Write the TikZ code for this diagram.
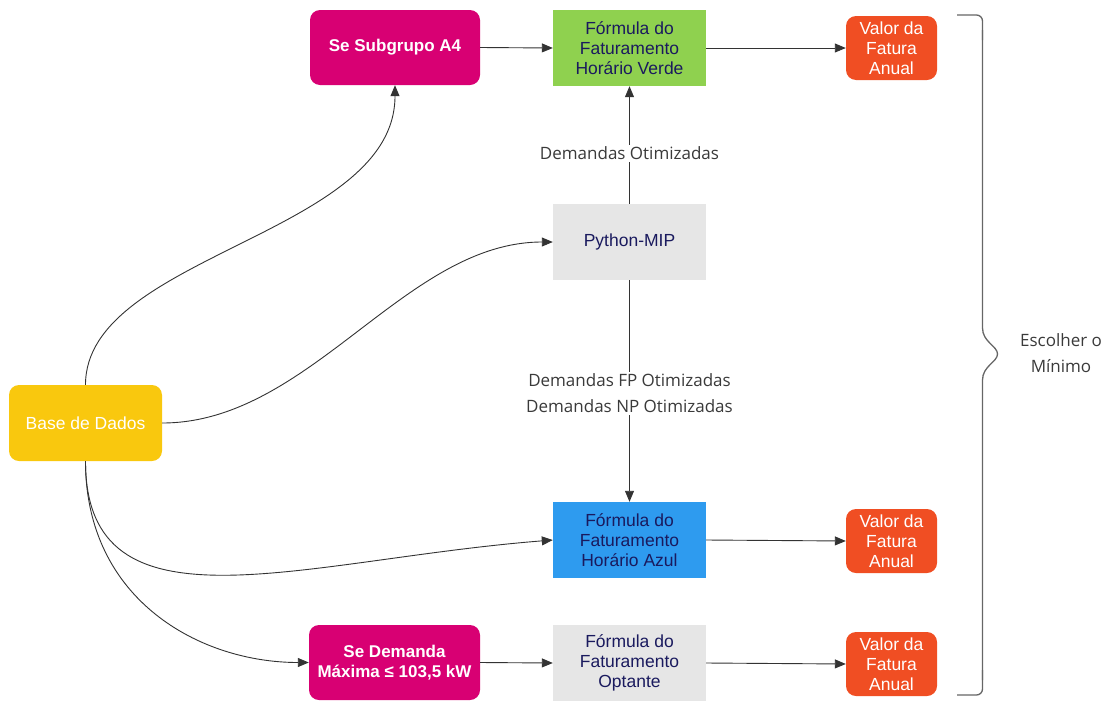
\documentclass[tikz,border=0pt]{standalone}
\usepackage{fontspec}
\setmainfont{Liberation Sans}
\newfontfamily\labelfont{Open Sans}
\usetikzlibrary{arrows.meta}
\definecolor{cMag}{HTML}{D80073}
\definecolor{cGreen}{HTML}{8FD14F}
\definecolor{cOrange}{HTML}{F04E23}
\definecolor{cGray}{HTML}{E6E6E6}
\definecolor{cYellow}{HTML}{F9C80E}
\definecolor{cBlue}{HTML}{2E9BEF}
\definecolor{cNavy}{HTML}{1A1A5E}
\definecolor{cLine}{HTML}{333333}
\definecolor{cLbl}{HTML}{3A3A3A}
\definecolor{cBrace}{HTML}{666666}
\tikzset{
  box/.style={minimum width=153pt, minimum height=76pt, inner sep=0pt, align=center,
    font=\fontsize{17.5}{20}\selectfont},
  sqbox/.style={box, text=cNavy},
  rbox/.style={box, rounded corners=10pt, text=white},
  res/.style={rbox, fill=cOrange, minimum width=91pt, minimum height=64pt},
  cond/.style={rbox, fill=cMag, minimum width=170pt, minimum height=75pt,
    font=\bfseries\fontsize{17}{20}\selectfont},
  conn/.style={draw=cLine, line width=0.9pt, -{Triangle[length=11pt,width=9pt]}},
  lbl/.style={fill=white, inner sep=2pt, text=cLbl, align=center,
    font=\labelfont\fontsize{17}{26}\selectfont},
}
\begin{document}
\begin{tikzpicture}[x=1pt,y=-1pt]
\useasboundingbox (0,0) rectangle (1114,702);
% nodes
\node[cond] (a4) at (395,47.5) {Se Subgrupo A4};
\node[sqbox, fill=cGreen] (verde) at (629.5,48) {Fórmula do\\Faturamento\\Horário Verde};
\node[res] (v1) at (891.5,48) {Valor da\\Fatura\\Anual};
\node[sqbox, fill=cGray] (mip) at (629.5,242) {Python-MIP};
\node[rbox, fill=cYellow] (base) at (85.5,423) {Base de Dados};
\node[sqbox, fill=cBlue] (azul) at (629.5,540) {Fórmula do\\Faturamento\\Horário Azul};
\node[res] (v2) at (891.5,541) {Valor da\\Fatura\\Anual};
\node[cond, minimum width=171pt] (dem) at (394.5,662.5) {Se Demanda\\Máxima ≤ 103,5 kW};
\node[sqbox, fill=cGray] (opt) at (629.5,663) {Fórmula do\\Faturamento\\Optante};
\node[res] (v3) at (891.5,664) {Valor da\\Fatura\\Anual};
\node[text=cLbl, align=center, font=\labelfont\fontsize{17}{26}\selectfont] (esc) at (1061,353) {Escolher o\\Mínimo};
% straight connectors
\draw[conn] (a4.east) -- (verde.west);
\draw[conn] (verde.east) -- (v1.west);
\draw[conn] (mip.north) -- node[lbl, pos=0.43] (l1) {Demandas Otimizadas} (verde.south);
\draw[conn] (mip.south) -- node[lbl, pos=0.51] (l2) {Demandas FP Otimizadas\\Demandas NP Otimizadas} (azul.north);
\draw[conn] (azul.east) -- (v2.west);
\draw[conn] (dem.east) -- (opt.west);
\draw[conn] (opt.east) -- (v3.west);
% curved connectors
\draw[conn] (base.north) .. controls (85.5,255) and (395,235) .. (a4.south);
\draw[conn] (base.east) .. controls (310,423) and (405,242) .. (mip.west);
\draw[conn] (base.south) .. controls (85.5,640) and (300,560) .. (azul.west);
\draw[conn] (base.south) .. controls (85.5,600) and (200,662.5) .. (dem.west);
% brace
\draw[cBrace, line width=1.3pt, rounded corners=6pt]
  (957,15) -- (982.5,15) -- (982.5,40);
\draw[cBrace, line width=1.3pt]
  (982.5,30) -- (982.5,328)
  .. controls (982.5,342) and (997.5,346) .. (997.5,354)
  .. controls (997.5,362) and (982.5,366) .. (982.5,380)
  -- (982.5,680);
\draw[cBrace, line width=1.3pt, rounded corners=6pt]
  (982.5,670) -- (982.5,695) -- (957,695);
\end{tikzpicture}
\end{document}
